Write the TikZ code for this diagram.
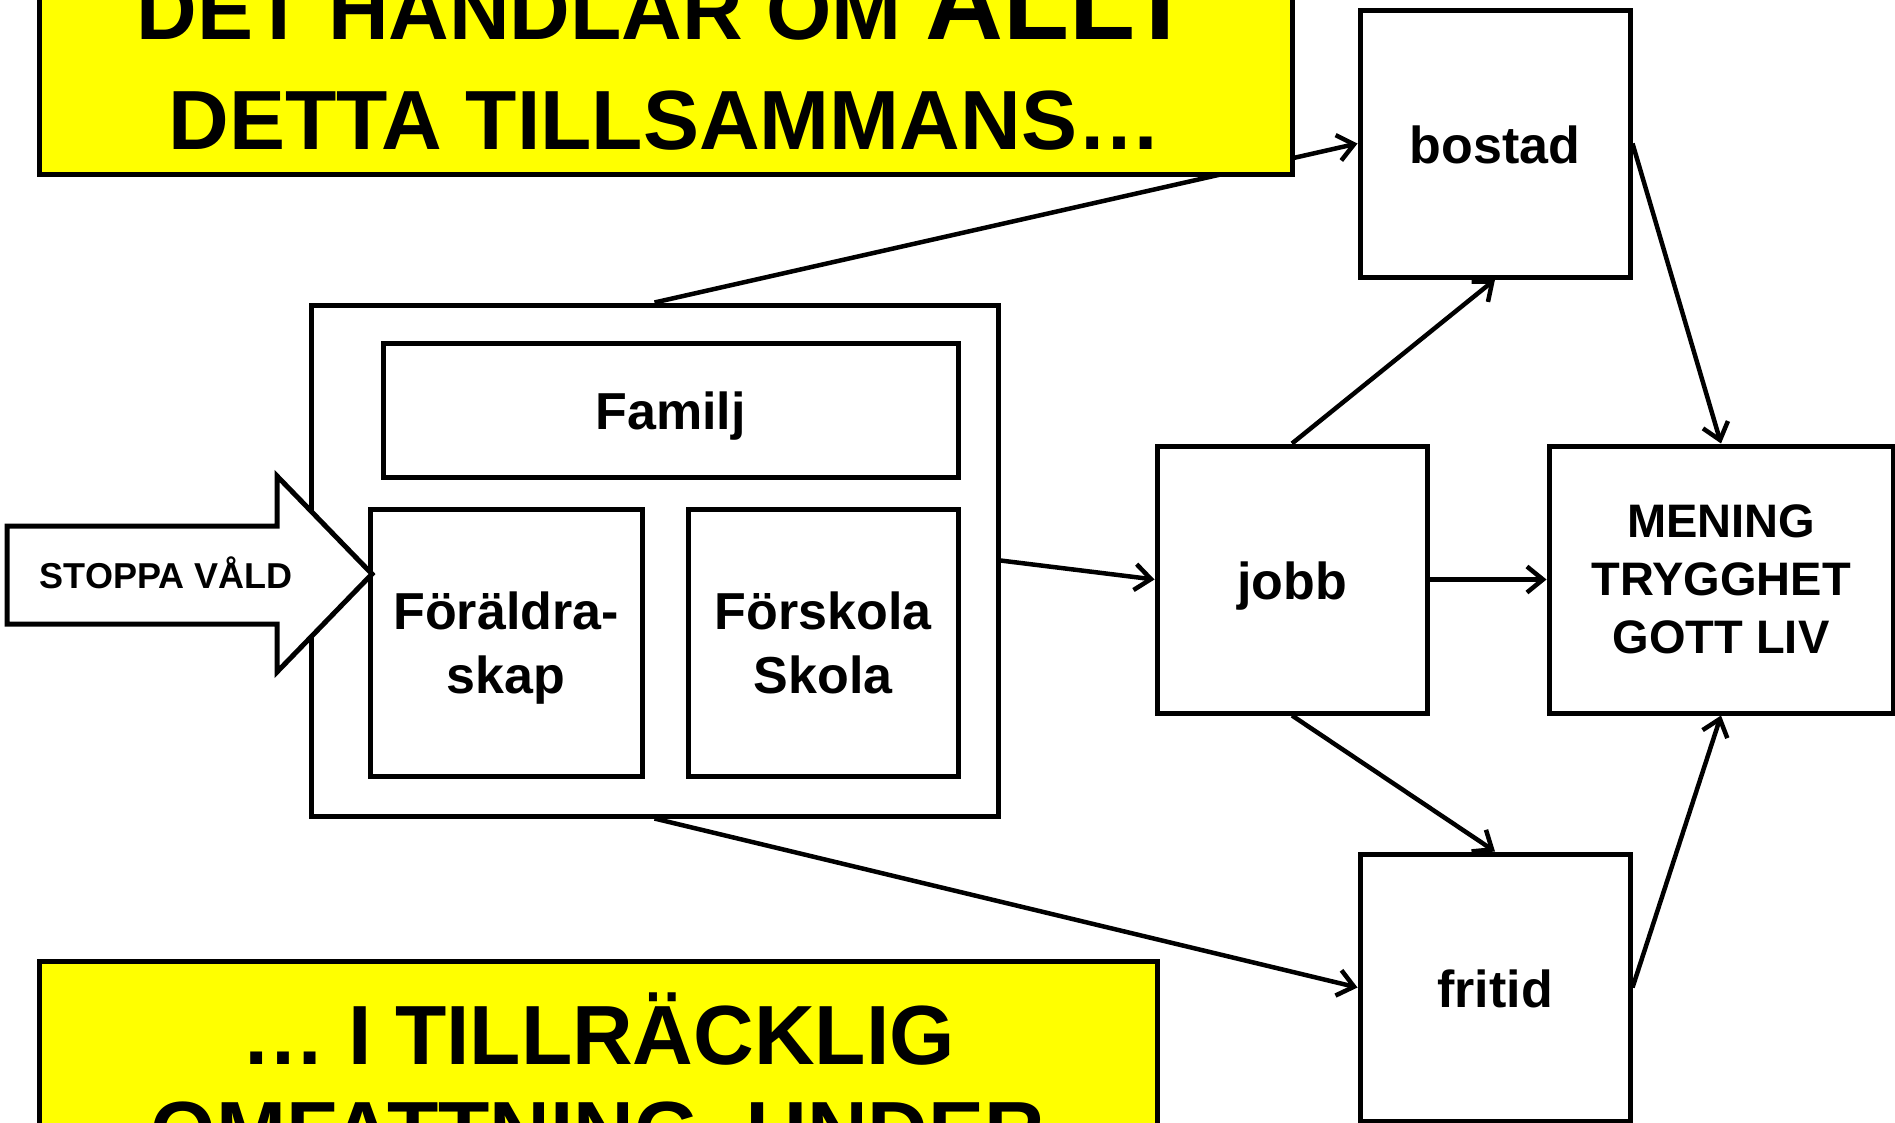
\documentclass[tikz,border=0pt]{standalone}
\usepackage{fontspec}
\setmainfont{Liberation Sans}
\usetikzlibrary{arrows.meta}
\definecolor{yelfill}{RGB}{255,255,0}
\begin{document}
\begin{tikzpicture}[x=1pt,y=-1pt,
  box/.style={draw, line width=5pt, fill=white, minimum width=270pt, minimum height=267pt, inner sep=0pt,
    font=\fontsize{52}{64}\selectfont\bfseries, align=center},
  one/.style={text height=46pt, text depth=7pt},
  yel/.style={draw, line width=5pt, fill=yelfill, inner sep=0pt},
  big/.style={font=\fontsize{84}{100}\selectfont\bfseries, anchor=base, inner sep=0pt},
  conn/.style={line width=4.5pt, -{Straight Barb[length=16pt,width=26pt]}}]
\useasboundingbox (0,0) rectangle (1895,1122);
\clip (0,0) rectangle (1895,1122);
% right-hand boxes
\node[box, one] (bostad) at (1495,143.5) {bostad};
\node[box, one] (jobb) at (1292,579.5) {jobb};
\node[box, minimum width=344pt, font=\fontsize{47}{58}\selectfont\bfseries] (mening) at (1721,579.5) {MENING\\TRYGGHET\\\smash{GOTT LIV}};
\node[box, one] (fritid) at (1495,987.5) {fritid};
% container
\node[draw, line width=5pt, minimum width=687pt, minimum height=511pt, inner sep=0pt] (cont) at (654.5,560.5) {};
\node[box, one, minimum width=575pt, minimum height=134pt] (familj) at (670.5,410) {Familj};
\node[box, minimum width=272pt] (foral) at (506,642.5) {Föräldra-\\\smash{skap}};
\node[box] (forsk) at (823,642.5) {Förskola\\\smash{Skola}};
% STOPPA VÅLD arrow
\draw[line width=5pt, fill=white, line join=miter] (7,526) -- (277,526) -- (277,476) -- (372,574) -- (277,672) -- (277,624) -- (7,624) -- cycle;
\node[font=\fontsize{36}{40}\selectfont\bfseries, inner sep=0pt] (stopp) at (166,573) {STOPPA VÅLD};
% connectors
\draw[conn] (cont.north) -- (bostad.west);
\draw[conn] (cont.south) -- (fritid.west);
\draw[conn] (cont.east) -- (jobb.west);
\draw[conn] (jobb.north) -- (bostad.south);
\draw[conn] (jobb.south) -- (fritid.north);
\draw[conn] (jobb.east) -- (mening.west);
\draw[conn] (bostad.east) -- (mening.north);
\draw[conn] (fritid.east) -- (mening.south);
% yellow boxes
\node[yel, minimum width=1253pt, minimum height=254pt] (topbox) at (665.5,47) {};
\node[big] (t1) at (665,39) {DET HANDLAR OM {\fontsize{108}{120}\selectfont ALLT}};
\node[big] (t2) at (665,149) {DETTA TILLSAMMANS…};
\node[yel, minimum width=1118pt, minimum height=300pt] (botbox) at (598,1111) {};
\node[big] (b1) at (598,1064) {… I TILLRÄCKLIG};
\node[big] (b2) at (598,1160) {OMFATTNING, UNDER};
\end{tikzpicture}
\end{document}
